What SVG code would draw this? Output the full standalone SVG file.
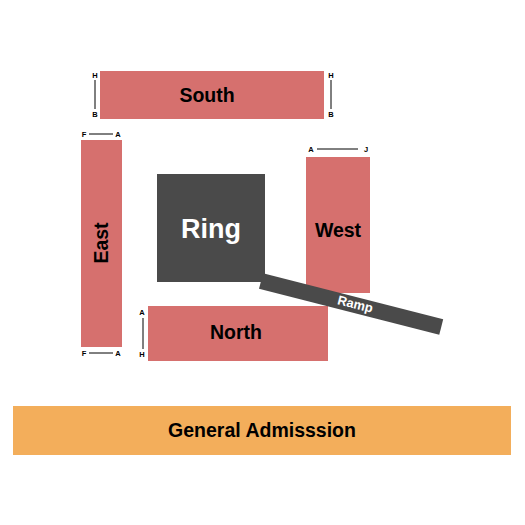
<svg xmlns="http://www.w3.org/2000/svg" width="525" height="525" viewBox="0 0 525 525">
<style>
.sec{fill:#D6706E}
.lbl{font-family:"Liberation Sans",Arial,sans-serif;font-weight:bold;font-size:19.5px;fill:#000;text-anchor:middle;dominant-baseline:central}
.sm{font-family:"Liberation Sans",Arial,sans-serif;font-weight:bold;font-size:7.5px;fill:#000;text-anchor:middle;dominant-baseline:central}
.ln{stroke:#000;stroke-width:1;fill:none}
</style>
<rect width="525" height="525" fill="#fff"/>
<g id="south">
<rect class="sec" x="100" y="71" width="224" height="48"/>
<text class="lbl" x="207" y="95">South</text>
<text class="sm" x="95" y="75">H</text><text class="sm" x="95" y="114">B</text>
<line class="ln" x1="95" y1="80" x2="95" y2="109"/>
<text class="sm" x="331" y="75">H</text><text class="sm" x="331" y="114">B</text>
<line class="ln" x1="331" y1="80" x2="331" y2="109"/>
</g>
<g id="east">
<rect class="sec" x="81" y="140" width="41" height="207"/>
<text class="lbl" transform="translate(101,243) rotate(-90)">East</text>
<text class="sm" x="84" y="134">F</text><text class="sm" x="118" y="134">A</text>
<line class="ln" x1="89" y1="134" x2="113" y2="134"/>
<text class="sm" x="84" y="353">F</text><text class="sm" x="118" y="353">A</text>
<line class="ln" x1="89" y1="353" x2="113" y2="353"/>
</g>
<g id="west">
<rect class="sec" x="306" y="157" width="64" height="136"/>
<text class="lbl" x="338" y="230">West</text>
<text class="sm" x="311" y="149">A</text><text class="sm" x="366" y="149">J</text>
<line class="ln" x1="317" y1="149" x2="358" y2="149"/>
</g>
<g id="north">
<rect class="sec" x="148" y="306" width="180" height="55"/>
<text class="lbl" x="236" y="332">North</text>
<text class="sm" x="142" y="312">A</text><text class="sm" x="142" y="354">H</text>
<line class="ln" x1="143" y1="318" x2="143" y2="349"/>
</g>
<g id="ring">
<rect x="157" y="174" width="108" height="108" fill="#4A4A4A"/>
<text class="lbl" x="211" y="229" style="fill:#fff;font-size:27px">Ring</text>
</g>
<g id="ramp">
<g transform="translate(261,281) rotate(14.3)">
<rect x="0" y="-8" width="186" height="16" fill="#4A4A4A"/>
<text class="lbl" x="97" y="-1" style="fill:#fff;font-size:13px">Ramp</text>
</g>
</g>
<g id="ga">
<rect x="13" y="406" width="498" height="49" fill="#F3AE5B"/>
<text class="lbl" x="262" y="430">General Admisssion</text>
</g>
<g id="connectors"></g>
</svg>
